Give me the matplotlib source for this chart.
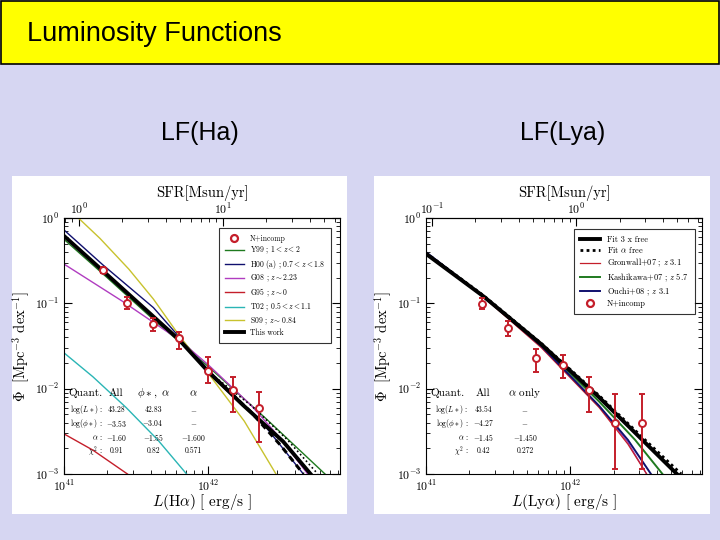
import matplotlib
matplotlib.use("Agg")
import matplotlib.pyplot as plt
from matplotlib.patches import Rectangle
import numpy as np

plt.rcParams['mathtext.fontset'] = 'cm'
plt.rcParams['font.family'] = ['cmr10', 'DejaVu Serif']
plt.rcParams['axes.formatter.use_mathtext'] = True

# ---------------- Slide text ----------------
title = "Luminosity Functions"
subtitles = ["LF(Ha)", "LF(Lya)"]

# ---------------- H-alpha panel data (log10 values) ----------------
ha_curves = {
    "Y99 ; $1 < z < 2$":          ([41.0, 41.3, 41.62, 42.0, 42.4, 42.81], [-0.25, -0.70, -1.19, -1.74, -2.35, -3.0]),
    "H00 (a) ; $0.7 < z < 1.8$":  ([41.0, 41.27, 41.62, 42.0, 42.4, 42.66], [-0.14, -0.55, -1.05, -1.78, -2.45, -3.0]),
    "G08 ; $z \\sim 2.23$":       ([41.0, 41.4, 41.8, 42.0, 42.3, 42.5, 42.69], [-0.54, -0.97, -1.43, -1.72, -2.2, -2.58, -3.0]),
    "G95 ; $z \\sim 0$":          ([41.0, 41.2, 41.44], [-2.53, -2.72, -3.0]),
    "T02 ; $0.5 < z < 1.1$":      ([41.0, 41.2, 41.43, 41.65, 41.85], [-1.58, -1.86, -2.22, -2.6, -3.0]),
    "S09 ; $z \\sim 0.84$":       ([41.1, 41.25, 41.45, 41.62, 41.8, 42.0, 42.25, 42.47], [0.0, -0.24, -0.6, -0.95, -1.38, -1.82, -2.38, -3.0]),
    "This work":                  ([41.0, 41.27, 41.8, 42.0, 42.24, 42.52, 42.71], [-0.21, -0.62, -1.43, -1.80, -2.19, -2.62, -3.0]),
}
ha_colors = ["#1f7a1f", "#10106e", "#b03cc0", "#c41e2a", "#2ab5b5", "#c8c22e", "black"]
ha_widths = [1.0, 1.0, 1.0, 1.0, 1.0, 1.0, 2.8]
ha_dashed = ([42.0, 42.3, 42.5, 42.66], [-1.80, -2.28, -2.66, -3.0])
ha_dotted = ([42.0, 42.3, 42.55, 42.76], [-1.80, -2.2, -2.6, -3.0])

ha_pts_logL = [41.27, 41.44, 41.62, 41.80, 42.0, 42.17, 42.35]
ha_pts_logphi = [-0.605, -1.0, -1.24, -1.41, -1.79, -2.01, -2.23]
ha_err_lo = [-0.64, -1.07, -1.32, -1.53, -1.93, -2.27, -2.62]
ha_err_hi = [-0.57, -0.92, -1.17, -1.34, -1.63, -1.86, -2.04]

ha_table_cols = ["Quant.", "All", "$\\phi*,\\ \\alpha$", "$\\alpha$"]
ha_table_rows = [["$\\log(L*)$ :", "43.28", "42.83", "$-$"],
                 ["$\\log(\\phi*)$ :", "$-3.53$", "$-3.04$", "$-$"],
                 ["$\\alpha$ :", "$-1.60$", "$-1.55$", "$-1.600$"],
                 ["$\\chi^2$ :", "0.91", "0.82", "0.571"]]

# ---------------- Lyman-alpha panel data ----------------
lya_fit3 = ([41.0, 41.4, 41.8, 42.2, 42.5, 42.74], [-0.42, -0.92, -1.48, -2.1, -2.6, -3.0])
lya_fita = ([41.0, 41.4, 41.8, 42.2, 42.5, 42.77], [-0.41, -0.91, -1.47, -2.08, -2.57, -3.0])
lya_curves = {
    "Gronwall+07 ; $z$ 3.1":  ([41.0, 41.4, 41.8, 42.2, 42.4, 42.53], [-0.42, -0.93, -1.52, -2.22, -2.65, -3.0]),
    "Kashikawa+07 ; $z$ 5.7": ([41.0, 41.4, 41.8, 42.2, 42.45, 42.64], [-0.41, -0.92, -1.49, -2.15, -2.6, -3.0]),
    "Ouchi+08 ; $z$ 3.1":     ([41.0, 41.4, 41.8, 42.2, 42.4, 42.56], [-0.40, -0.92, -1.5, -2.2, -2.6, -3.0]),
}
lya_colors = ["#c41e2a", "#1f7a1f", "#10106e"]
lya_widths = [0.9, 1.4, 1.4]
lya_purple = ([41.0, 41.4, 41.8, 42.2, 42.4, 42.53], [-0.41, -0.92, -1.51, -2.21, -2.63, -3.0])

lya_pts_logL = [41.39, 41.57, 41.76, 41.95, 42.13, 42.31, 42.50]
lya_pts_logphi = [-1.01, -1.29, -1.64, -1.72, -2.01, -2.40, -2.40]
lya_err_lo = [-1.07, -1.38, -1.80, -1.88, -2.27, -2.94, -2.94]
lya_err_hi = [-0.94, -1.21, -1.53, -1.60, -1.86, -2.06, -2.06]

lya_table_cols = ["Quant.", "All", "$\\alpha$ only"]
lya_table_rows = [["$\\log(L*)$ :", "43.54", "$-$"],
                  ["$\\log(\\phi*)$ :", "$-4.27$", "$-$"],
                  ["$\\alpha$ :", "$-1.45$", "$-1.450$"],
                  ["$\\chi^2$ :", "0.42", "0.272"]]

sfr_factor_ha = 7.9e-42
sfr_factor_lya = 7.9e-42 / 8.7
sfr_ticks_ha = [1, 10]
sfr_ticks_lya = [0.1, 1]

# ---------------- Figure ----------------
W, H = 720, 540
fig = plt.figure(figsize=(7.2, 5.4), dpi=100)
fig.patch.set_facecolor("#d6d6f2")

def px(x0, y0, x1, y1):
    return [x0 / W, 1 - y1 / H, (x1 - x0) / W, (y1 - y0) / H]

# title bar
fig.add_artist(Rectangle((0.5 / W, 1 - 64 / H), 718.5 / W, 63.5 / H, transform=fig.transFigure,
                         facecolor="#ffff00", edgecolor="black", linewidth=1.2, zorder=-5))
fig.text(27 / W, 1 - 34 / H, title, fontsize=19.5, family="Liberation Sans", va="center", ha="left")
fig.text(200 / W, 1 - 133 / H, subtitles[0], fontsize=18, family="Liberation Sans", va="center", ha="center")
fig.text(563 / W, 1 - 133 / H, subtitles[1], fontsize=18, family="Liberation Sans", va="center", ha="center")

# white image panels
for (x0, x1) in [(12, 347), (374, 710)]:
    fig.add_artist(Rectangle((x0 / W, 1 - 514 / H), (x1 - x0) / W, (514 - 176) / H,
                             transform=fig.transFigure, facecolor="white", edgecolor="none", zorder=-5))


def style_axes(ax, factor, ticks):
    ax.set_xscale("log")
    ax.set_yscale("log")
    ax.set_xlim(1e41, 10 ** 42.914)
    ax.set_ylim(1e-3, 1e0)
    ax.tick_params(which="both", direction="in", top=False, right=True, labelsize=8.5)
    ax.tick_params(which="major", length=6, width=0.8)
    ax.tick_params(which="minor", length=3, width=0.6)
    ax.set_facecolor("white")
    sec = ax.secondary_xaxis("top", functions=(lambda L: L * factor, lambda s: s / factor))
    sec.set_xscale("log")
    sec.set_xticks(ticks)
    sec.tick_params(which="both", direction="in", labelsize=8.5, pad=1)
    sec.tick_params(which="major", length=6)
    sec.tick_params(which="minor", length=3)
    sec.set_xlabel("SFR[Msun/yr]", fontsize=10.5, labelpad=3)
    ax.set_ylabel(r"$\Phi\ \ [\mathrm{Mpc}^{-3}\ \mathrm{dex}^{-1}]$", fontsize=10.5, labelpad=2)
    return sec


def table(ax, cols, rows, xcols, xlab):
    y0 = 0.316
    ys = [0.251, 0.199, 0.141, 0.089]
    ax.text(0.015, y0, cols[0], transform=ax.transAxes, fontsize=8, va="center", ha="left")
    for c, x in zip(cols[1:], xcols):
        ax.text(x, y0, c, transform=ax.transAxes, fontsize=8, va="center", ha="center")
    for r, y in zip(rows, ys):
        ax.text(xlab, y, r[0], transform=ax.transAxes, fontsize=5.5, va="center", ha="right")
        for v, x in zip(r[1:], xcols):
            ax.text(x, y, v, transform=ax.transAxes, fontsize=5.5, va="center", ha="center")


# ---- Left (H-alpha) ----
axl = fig.add_axes(px(64, 218, 340, 474))
style_axes(axl, sfr_factor_ha, sfr_ticks_ha)
handles = []
h_pts, = axl.plot([], [], "o", mfc="none", mec="#c41e2a", mew=1.6, ms=5, label="N+incomp")
handles.append(h_pts)
for (lab, (lx, ly)), c, lw in zip(ha_curves.items(), ha_colors, ha_widths):
    h, = axl.plot(10 ** np.array(lx), 10 ** np.array(ly), color=c, lw=lw, label=lab,
                  zorder=3 if c == "black" else 2)
    handles.append(h)
axl.plot(10 ** np.array(ha_dashed[0]), 10 ** np.array(ha_dashed[1]), color="black", lw=2.2,
         ls=(0, (2, 1.5)), zorder=3)
axl.plot(10 ** np.array(ha_dotted[0]), 10 ** np.array(ha_dotted[1]), color="black", lw=1.2,
         ls=":", zorder=3)
x = 10 ** np.array(ha_pts_logL)
yv = 10 ** np.array(ha_pts_logphi)
yerr = [yv - 10 ** np.array(ha_err_lo), 10 ** np.array(ha_err_hi) - yv]
axl.errorbar(x, yv, yerr=yerr, fmt="o", mfc="white", mec="#c41e2a", ecolor="#c41e2a",
             mew=1.4, ms=5, elinewidth=1.4, capsize=2.5, zorder=5)
leg = axl.legend(handles=handles, loc="upper right", fontsize=5.5, frameon=True, fancybox=False,
                 edgecolor="black", borderpad=0.8, labelspacing=0.25, handlelength=2.4,
                 bbox_to_anchor=(0.98, 0.975))
leg.get_frame().set_linewidth(0.8)
axl.set_xlabel(r"$L(\mathrm{H}\alpha)\ [\ \mathrm{erg/s}\ ]$", fontsize=11, labelpad=-1)
table(axl, ha_table_cols, ha_table_rows, [0.19, 0.323, 0.468], 0.141)

# ---- Right (Ly-alpha) ----
axr = fig.add_axes(px(426, 218, 702, 474))
style_axes(axr, sfr_factor_lya, sfr_ticks_lya)
handles = []
h, = axr.plot(10 ** np.array(lya_fit3[0]), 10 ** np.array(lya_fit3[1]), color="black", lw=2.8,
              label="Fit 3 x free", zorder=3)
handles.append(h)
h, = axr.plot(10 ** np.array(lya_fita[0]), 10 ** np.array(lya_fita[1]), color="black", lw=2.0,
              ls=(0, (1, 1.2)), label="Fit $\\alpha$ free", zorder=3)
handles.append(h)
axr.plot(10 ** np.array(lya_purple[0]), 10 ** np.array(lya_purple[1]), color="#9a30b0", lw=0.9)
for (lab, (lx, ly)), c, lw in zip(lya_curves.items(), lya_colors, lya_widths):
    h, = axr.plot(10 ** np.array(lx), 10 ** np.array(ly), color=c, lw=lw, label=lab)
    handles.append(h)
x = 10 ** np.array(lya_pts_logL)
yv = 10 ** np.array(lya_pts_logphi)
yerr = [yv - 10 ** np.array(lya_err_lo), 10 ** np.array(lya_err_hi) - yv]
axr.errorbar(x, yv, yerr=yerr, fmt="o", mfc="white", mec="#c41e2a", ecolor="#c41e2a",
             mew=1.4, ms=5, elinewidth=1.4, capsize=2.5, zorder=5)
h_pts, = axr.plot([], [], "o", mfc="none", mec="#c41e2a", mew=1.6, ms=5, label="N+incomp")
handles.append(h_pts)
leg = axr.legend(handles=handles, loc="upper right", fontsize=6, frameon=True, fancybox=False,
                 edgecolor="black", borderpad=0.8, labelspacing=0.2, handlelength=2.4,
                 bbox_to_anchor=(0.99, 0.975))
leg.get_frame().set_linewidth(0.8)
axr.set_xlabel(r"$L(\mathrm{Ly}\alpha)\ [\ \mathrm{erg/s}\ ]$", fontsize=11, labelpad=-1)
table(axr, lya_table_cols, lya_table_rows, [0.208, 0.359], 0.154)

fig.savefig("out.png", dpi=100, facecolor=fig.get_facecolor())
